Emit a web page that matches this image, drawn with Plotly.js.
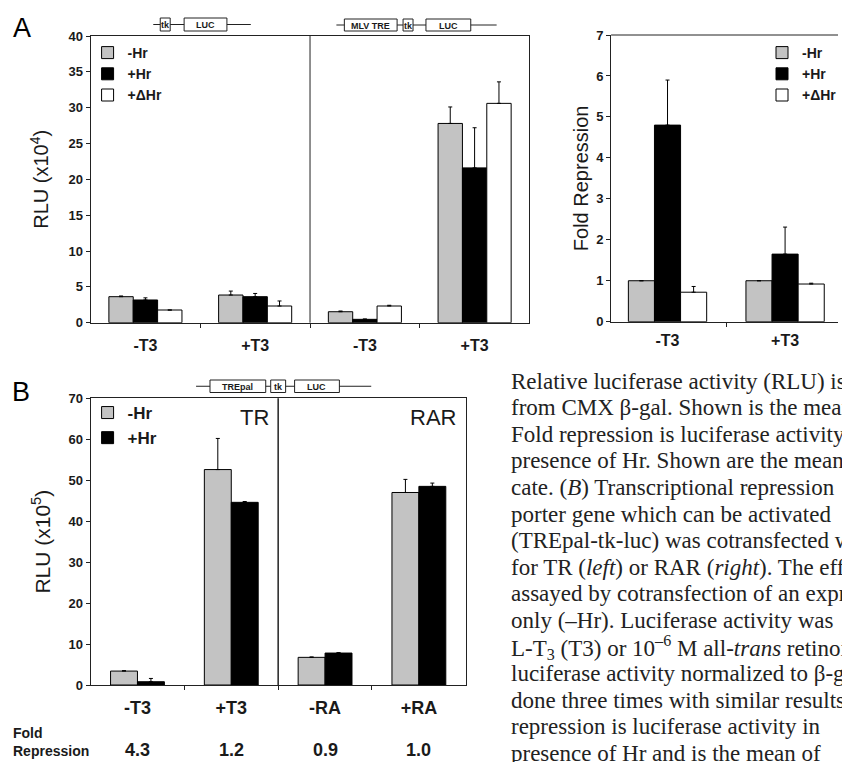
<!DOCTYPE html>
<html>
<head>
<meta charset="utf-8">
<script src="https://cdn.plot.ly/plotly-3.0.1.min.js"></script>
<style>
  html, body { margin: 0; padding: 0; background: #fff; overflow: hidden; }
  #chart { width: 842px; height: 762px; }
</style>
</head>
<body>
<div id="chart"></div>
<script>
// ---------------- data ----------------
const seriesNames = ['-Hr', '+Hr', '+ΔHr'];

// Panel A (left): RLU (x10^4)
const catsA = ['-T3', '+T3', '-T3', '+T3'];
const rluA_minusHr = [3.63, 3.86, 1.53, 27.8];
const rluA_plusHr = [3.17, 3.63, 0.47, 21.6];
const rluA_deltaHr = [1.77, 2.33, 2.33, 30.6];
const errA_minusHr = [0.1, 0.55, 0.1, 2.3];
const errA_plusHr = [0.3, 0.45, 0.05, 5.6];
const errA_deltaHr = [0.0, 0.7, 0.1, 3.0];
const constructsA = [['tk', 'LUC'], ['MLV TRE', 'tk', 'LUC']];

// Panel A (right): fold repression
const catsFold = ['-T3', '+T3'];
const fold_minusHr = [1.0, 1.0];
const fold_plusHr = [4.8, 1.65];
const fold_deltaHr = [0.72, 0.92];
const errFold_minusHr = [0, 0];
const errFold_plusHr = [1.1, 0.66];
const errFold_deltaHr = [0.14, 0.02];

// Panel B: RLU (x10^5)
const catsB = ['-T3', '+T3', '-RA', '+RA'];
const rluB_minusHr = [3.4, 52.6, 6.75, 47.0];
const rluB_plusHr = [0.8, 44.6, 7.8, 48.5];
const errB_minusHr = [0.1, 7.6, 0.1, 3.2];
const errB_plusHr = [0.8, 0.2, 0.1, 0.8];
const foldB = ['4.3', '1.2', '0.9', '1.0'];
const foldRowLabel = ['Fold', 'Repression'];
const receptorsB = ['TR', 'RAR'];
const constructB = ['TREpal', 'tk', 'LUC'];

const captionLines = [
  'Relative luciferase activity (RLU) is',
  'from CMX β-gal. Shown is the mean',
  'Fold repression is luciferase activity',
  'presence of Hr. Shown are the means',
  'cate. (<i>B</i>) Transcriptional repression',
  'porter gene which can be activated',
  '(TREpal-tk-luc) was cotransfected with',
  'for TR (<i>left</i>) or RAR (<i>right</i>). The effect',
  'assayed by cotransfection of an expression',
  'only (–Hr). Luciferase activity was',
  'L-T<sub>3</sub> (T3) or 10<sup>–6</sup> M all-<i>trans</i> retinoic',
  'luciferase activity normalized to β-gal',
  'done three times with similar results',
  'repression is luciferase activity in',
  'presence of Hr and is the mean of'
];

// ---------------- helpers ----------------
const W = 842, H = 762;
const PX = p => p / W;
const PY = p => 1 - p / H;
const idx = arr => arr.map((_, i) => i);

const SANS = 'Liberation Sans, Arial, Helvetica, sans-serif';
const SERIF = 'Liberation Serif, Times New Roman, serif';
const INK = '#1a1a1a';
const fills = ['#c3c3c3', '#000000', '#ffffff'];

const bw3 = 0.222, offs3 = [-0.333, -0.111, 0.111];
const bw2 = 0.287, offs2 = [-0.287, 0.0];

function barTrace(x, y, err, k, xa, ya, legend, width, offset) {
  return {
    type: 'bar', x: x, y: y, name: seriesNames[k],
    xaxis: xa, yaxis: ya, legend: legend, showlegend: true,
    width: width, offset: offset,
    marker: { color: fills[k], line: { color: '#000', width: 1 } },
    error_y: { type: 'data', symmetric: false, array: err,
               arrayminus: err.map(() => 0), color: '#000', thickness: 1, width: 2 },
    hoverinfo: 'x+y'
  };
}

const xA = idx(catsA), xF = idx(catsFold), xB = idx(catsB);

const data = [
  barTrace(xA, rluA_minusHr, errA_minusHr, 0, 'x', 'y', 'legend', bw3, offs3[0]),
  barTrace(xA, rluA_plusHr, errA_plusHr, 1, 'x', 'y', 'legend', bw3, offs3[1]),
  barTrace(xA, rluA_deltaHr, errA_deltaHr, 2, 'x', 'y', 'legend', bw3, offs3[2]),
  barTrace(xF, fold_minusHr, errFold_minusHr, 0, 'x2', 'y2', 'legend2', bw3, offs3[0]),
  barTrace(xF, fold_plusHr, errFold_plusHr, 1, 'x2', 'y2', 'legend2', bw3, offs3[1]),
  barTrace(xF, fold_deltaHr, errFold_deltaHr, 2, 'x2', 'y2', 'legend2', bw3, offs3[2]),
  barTrace(xB, rluB_minusHr, errB_minusHr, 0, 'x3', 'y3', 'legend3', bw2, offs2[0]),
  barTrace(xB, rluB_plusHr, errB_plusHr, 1, 'x3', 'y3', 'legend3', bw2, offs2[1])
];

function xAxis(domain, range, vals, text, anchor, mirror, fsize, standoff, minorVals) {
  return {
    domain: domain, range: range, anchor: anchor, automargin: false,
    tickmode: 'array', tickvals: vals, ticktext: text, ticks: '',
    tickfont: { family: SANS, size: fsize, color: INK, weight: 'bold' },
    ticklabelstandoff: standoff,
    showline: true, linecolor: '#222', linewidth: 1, mirror: mirror,
    showgrid: false, zeroline: false, fixedrange: true,
    minor: { tickmode: 'array', tickvals: minorVals, ticks: 'outside', ticklen: 4, tickcolor: '#222', showgrid: false }
  };
}
function yAxis(domain, range, dtick, anchor, mirror, title, tsize, standoff) {
  return {
    domain: domain, range: range, dtick: dtick, anchor: anchor, automargin: false,
    ticks: 'outside', ticklen: 4, tickcolor: '#222',
    tickfont: { family: SANS, size: 13, color: INK, weight: 'bold' },
    showline: true, linecolor: '#222', linewidth: 1, mirror: mirror,
    showgrid: false, zeroline: false, fixedrange: true,
    title: { text: title, font: { family: SANS, size: tsize, color: INK }, standoff: standoff }
  };
}
function legendBox(xpx, ypx, fsize) {
  return { x: PX(xpx), y: PY(ypx), xanchor: 'left', yanchor: 'top', bgcolor: 'rgba(0,0,0,0)',
           font: { family: SANS, size: fsize, color: INK, weight: 'bold' }, tracegroupgap: 0, itemwidth: 30 };
}

const layout = {
  width: W, height: H,
  margin: { l: 0, r: 0, t: 0, b: 0, pad: 0 },
  paper_bgcolor: '#fff', plot_bgcolor: 'rgba(0,0,0,0)',
  barmode: 'overlay',
  font: { family: SANS, color: INK },
  xaxis: xAxis([PX(91), PX(532)], [-0.5, 3.5], xA, catsA, 'y', true, 16, 8, [0.5, 1.5, 2.5]),
  yaxis: yAxis([PY(322.7), PY(36)], [0, 40], 5, 'x', true, 'RLU (x10<sup>4</sup>)', 20, 14),
  xaxis2: xAxis([PX(614), 1], [-0.48, 1.45], xF, catsFold, 'y2', false, 16, 4, [0.5]),
  yaxis2: yAxis([PY(321.7), PY(35)], [0, 7], 1, 'x2', false, 'Fold Repression', 20, 2),
  xaxis3: xAxis([PX(91), PX(468)], [-0.5, 3.5], xB, catsB, 'y3', true, 18, 6, [0.5, 1.5, 2.5]),
  yaxis3: yAxis([PY(685), PY(398.3)], [0, 70], 10, 'x3', true, 'RLU (x10<sup>5</sup>)', 21, 12),
  legend: legendBox(88, 37, 14),
  legend2: legendBox(766, 37, 14),
  legend3: legendBox(88, 395, 17),
  shapes: [],
  annotations: []
};

// panel dividers and the clipped top border of the fold-repression panel
layout.shapes.push({ type: 'line', xref: 'x', yref: 'y domain', x0: 1.5, x1: 1.5, y0: 0, y1: 1, line: { color: '#222', width: 1 } });
layout.shapes.push({ type: 'line', xref: 'x3', yref: 'y3 domain', x0: 1.5, x1: 1.5, y0: 0, y1: 1, line: { color: '#222', width: 1.5 } });
layout.shapes.push({ type: 'line', xref: 'x2 domain', yref: 'y2 domain', x0: 0, x1: 1, y0: 1, y1: 1, line: { color: '#222', width: 1 } });

// construct diagrams (pixel geometry -> paper)
function construct(lineX0, lineX1, yTop, yBot, boxes, labels) {
  const yc = (yTop + yBot) / 2;
  layout.shapes.push({ type: 'line', xref: 'paper', yref: 'paper', x0: PX(lineX0), x1: PX(lineX1), y0: PY(yc), y1: PY(yc), line: { color: '#222', width: 1 } });
  boxes.forEach((b, i) => {
    layout.shapes.push({ type: 'rect', xref: 'paper', yref: 'paper', x0: PX(b[0]), x1: PX(b[1]), y0: PY(yBot), y1: PY(yTop),
      line: { color: '#222', width: 1 }, fillcolor: '#fff' });
    layout.annotations.push({ xref: 'paper', yref: 'paper', x: PX((b[0] + b[1]) / 2), y: PY(yc + 0.5), text: labels[i],
      showarrow: false, xanchor: 'center', yanchor: 'middle', font: { family: SANS, size: 9, color: INK, weight: 'bold' } });
  });
}
construct(154, 252, 18, 31, [[161, 171], [185, 228]], constructsA[0]);
construct(338, 499, 19, 31, [[346, 399], [405, 415], [428, 473]], constructsA[1]);
construct(197, 373, 380, 392.5, [[211, 267], [272, 287], [296, 341]], constructB);

// panel letters
layout.annotations.push({ xref: 'paper', yref: 'paper', x: PX(22), y: PY(28), text: 'A', showarrow: false,
  xanchor: 'center', yanchor: 'middle', font: { family: SANS, size: 27, color: '#000' } });
layout.annotations.push({ xref: 'paper', yref: 'paper', x: PX(21), y: PY(392), text: 'B', showarrow: false,
  xanchor: 'center', yanchor: 'middle', font: { family: SANS, size: 27, color: '#000' } });

// receptor labels in panel B
layout.annotations.push({ xref: 'x3', yref: 'paper', x: 1.42, y: PY(418), text: receptorsB[0], showarrow: false,
  xanchor: 'right', yanchor: 'middle', font: { family: SANS, size: 22, color: INK } });
layout.annotations.push({ xref: 'x3', yref: 'paper', x: 3.42, y: PY(418), text: receptorsB[1], showarrow: false,
  xanchor: 'right', yanchor: 'middle', font: { family: SANS, size: 22, color: INK } });

// fold repression row under panel B
layout.annotations.push({ xref: 'paper', yref: 'paper', x: PX(11), y: PY(742), text: foldRowLabel.join('<br>'), showarrow: false,
  xanchor: 'left', yanchor: 'middle', align: 'left', font: { family: SANS, size: 14, color: INK, weight: 'bold' } });
foldB.forEach((v, i) => {
  layout.annotations.push({ xref: 'x3', yref: 'paper', x: xB[i], y: PY(750), text: v, showarrow: false,
    xanchor: 'center', yanchor: 'middle', font: { family: SANS, size: 18, color: INK, weight: 'bold' } });
});

// caption text (cut at the right edge as in the source page)
captionLines.forEach((t, i) => {
  layout.annotations.push({ xref: 'paper', yref: 'paper', x: PX(511), y: PY(381 + i * 26.6), text: t, showarrow: false,
    xanchor: 'left', yanchor: 'middle', align: 'left', font: { family: SERIF, size: 23, color: '#222' } });
});

Plotly.newPlot('chart', data, layout, { staticPlot: true, displayModeBar: false });
</script>
</body>
</html>
